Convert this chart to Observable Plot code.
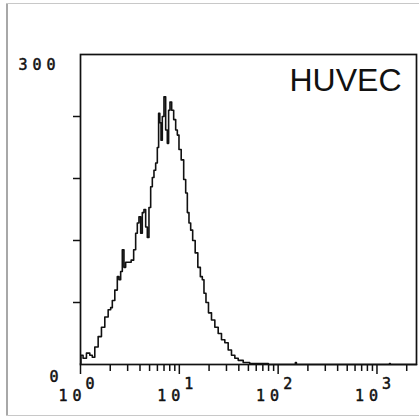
<!DOCTYPE html>
<html>
<head>
<meta charset="utf-8">
<script src="https://cdn.jsdelivr.net/npm/d3@7"></script>
<script src="https://cdn.jsdelivr.net/npm/@observablehq/plot@0.6"></script>
<style>
  html, body { margin: 0; padding: 0; background: #fff; }
  #wrap { position: relative; width: 419px; height: 418px; overflow: hidden; }
  .edge { position: absolute; background: #a8a8a8; }
  text.mono { letter-spacing: 5px; }
</style>
</head>
<body>
<div id="wrap">
  <div class="edge" style="left:6px; top:3px; width:1.5px; height:412px;"></div>
  <div class="edge" style="left:6px; top:3px; width:413px; height:1px; background:#c8c8c8;"></div>
  <div class="edge" style="left:6px; top:415px; width:413px; height:1px; background:#c8c8c8;"></div>
</div>
<script>
// Fluorescence channel (log scale) and cell counts
const fluorescence = [1.00, 1.02, 1.105, 1.194, 1.292, 1.341, 1.452, 1.568, 1.693, 1.833,
  1.98, 2.06, 2.138, 2.314, 2.402, 2.499, 2.60, 2.699, 2.808, 2.921,
  3.155, 3.36, 3.544, 3.688, 3.828, 3.983, 4.144, 4.301, 4.475, 4.656,
  4.833, 5.029, 5.232, 5.431, 5.649, 5.878, 6.101, 6.245, 6.452, 6.604,
  6.855, 7.132, 7.42, 7.702, 7.884, 8.203, 8.535, 9.006, 9.37, 9.725,
  10.12, 10.78, 11.37, 11.83, 12.28, 12.77, 13.29, 14.02, 14.93, 15.87,
  16.78, 17.41, 18.12, 19.11, 20.36, 21.99, 23.8, 25.7, 27.76, 30.04,
  32.44, 35.04, 37.93, 40.96, 47.89, 55.44, 68.4, 92.6, 148, 151, 155,
  1330, 1352, 1375, 2512];
const counts = [1, 9, 6, 11, 9, 7, 17, 27, 36, 46,
  53, 55, 62, 72, 85, 82, 90, 111, 94, 99,
  99, 101, 111, 127, 137, 143, 127, 147, 150, 133,
  123, 152, 172, 181, 188, 195, 210, 243, 234, 217,
  240, 259, 227, 214, 246, 254, 246, 237, 227, 222,
  208, 198, 179, 166, 147, 137, 130, 120, 108, 94,
  85, 82, 69, 60, 50, 43, 36, 30, 24, 21,
  14, 9, 6, 4, 2, 1, 1, 0, 0, 2, 0,
  0, 1, 0, 0];

const yTicks = [60, 120, 180, 240];
const yLabelTop = [300];
const yLabelBottom = [0];
const xMajor = [1, 10, 100, 1000];
const xExponents = ["0", "1", "2", "3"];
const xMinor = [2, 3, 4, 5, 6, 7, 8, 9, 20, 30, 40, 50, 60, 70, 80, 90,
  200, 300, 400, 500, 600, 700, 800, 900, 2000];
const sampleName = "HUVEC";

const data = fluorescence.map((x, i) => ({x, y: counts[i]}));
const majors = xMajor.map((v, i) => ({v, e: xExponents[i]}));

const mono = "DejaVu Sans Mono, monospace";
const ink = "#111";
const monoStyle = {fontFamily: mono, fontSize: 15, fill: ink, stroke: ink, strokeWidth: 0.5};

const chart = Plot.plot({
  width: 419,
  height: 418,
  marginLeft: 80,
  marginRight: 3,
  marginTop: 54,
  marginBottom: 54,
  style: {background: "transparent", overflow: "visible"},
  x: {type: "log", domain: [1, 2512]},
  y: {domain: [0, 300]},
  marks: [
    Plot.axisX(xMajor, {anchor: "bottom", tickSize: 10, tickFormat: () => "", label: null, strokeWidth: 1.5, stroke: ink}),
    Plot.axisX(xMinor, {anchor: "bottom", tickSize: 7, tickFormat: () => "", label: null, strokeWidth: 1.5, stroke: ink}),
    Plot.axisY(yTicks, {anchor: "left", tickSize: 7, tickFormat: () => "", label: null, strokeWidth: 1.5, stroke: ink}),
    Plot.frame({stroke: ink, strokeWidth: 1.7}),
    Plot.line(data, {x: "x", y: "y", curve: "step", stroke: ink, strokeWidth: 1.6}),
    Plot.text(yLabelTop, {x: () => 1, y: d => d, text: d => String(d), textAnchor: "end", dx: -20, dy: 11, ...monoStyle}),
    Plot.text(yLabelBottom, {x: () => 1, y: d => d, text: d => String(d), textAnchor: "end", dx: -17, dy: 13, ...monoStyle}),
    Plot.text(majors, {x: "v", y: () => 0, text: () => "10", textAnchor: "end", dx: 6, dy: 32, ...monoStyle}),
    Plot.text(majors, {x: "v", y: () => 0, text: "e", textAnchor: "start", dx: 5, dy: 20, ...monoStyle}),
    Plot.text([sampleName], {frameAnchor: "top-right", dx: -15, dy: 14, fontFamily: "Liberation Sans, Arial, sans-serif",
      fontSize: 32, fill: ink})
  ]
});
// widen the plotter-style digits
d3.select(chart).selectAll("g").filter(function() {
  const f = this.getAttribute("font-family");
  return f && f.indexOf("DejaVu Sans Mono") === 0;
}).selectAll("text").classed("mono", true).style("letter-spacing", "5px");
chart.style.position = "absolute";
chart.style.left = "0px";
chart.style.top = "0px";
document.getElementById("wrap").appendChild(chart);
</script>
</body>
</html>
